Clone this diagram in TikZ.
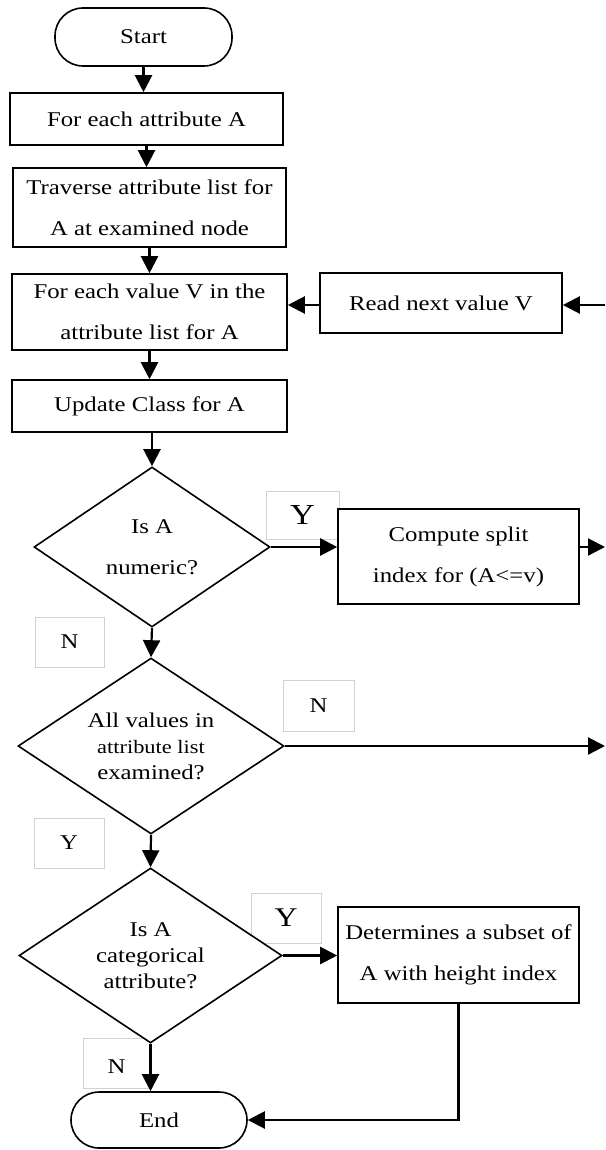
\documentclass[tikz,border=0pt]{standalone}
\usepackage{fontspec}
\setmainfont[FakeStretch=1.18]{Liberation Serif}
\usetikzlibrary{shapes.geometric,arrows.meta}
\begin{document}
\begin{tikzpicture}[x=1pt,y=-1pt,
  base/.style={font=\fontsize{21}{41}\selectfont, align=center, inner sep=0pt},
  proc/.style={base, draw, line width=1.6pt, fill=white, rectangle},
  term/.style={proc, rounded corners=28pt},
  dec/.style={base, draw, line width=1.6pt, fill=white, diamond},
  lbl/.style={draw=black!18, line width=1pt, fill=white, inner sep=0pt, font=\fontsize{21}{21}\selectfont},
  arr/.style={line width=2.2pt, -{Triangle[length=17pt,width=17pt]}},
  ln/.style={line width=2.2pt}]
\useasboundingbox (0,0) rectangle (605,1150);
% edge labels (behind shapes)
\node[lbl, minimum width=73pt, minimum height=48pt, font=\fontsize{29}{29}\selectfont] (y1) at (302.5,515) {Y};
\node[lbl, minimum width=69pt, minimum height=50pt] (n1) at (69.5,642) {N};
\node[lbl, minimum width=71pt, minimum height=51pt] (n2) at (318.5,705.5) {N};
\node[lbl, minimum width=70pt, minimum height=50pt] (y2) at (69,843) {Y};
\node[lbl, minimum width=70pt, minimum height=50pt, font=\fontsize{27}{27}\selectfont] (y3) at (286,918) {Y};
\node[lbl, minimum width=67pt, minimum height=50pt, text depth=0pt, anchor=center] (n3) at (116.5,1063) {\raisebox{-8pt}{N}};
% shapes
\node[term, minimum width=177pt, minimum height=58pt] (start) at (143.5,37) {Start};
\node[proc, minimum width=273pt, minimum height=52pt] (b1) at (146.5,119) {For each attribute A};
\node[proc, minimum width=273pt, minimum height=79pt] (b2) at (149.5,207.5) {Traverse attribute list for\\A at examined node};
\node[proc, minimum width=275pt, minimum height=76pt] (b3) at (149.5,312) {For each value V in the\\attribute list for A};
\node[proc, minimum width=242pt, minimum height=60pt] (read) at (441,303) {Read next value V};
\node[proc, minimum width=275pt, minimum height=52pt] (b4) at (149.5,406) {Update Class for A};
\node[dec, minimum width=236pt, minimum height=160pt, shape aspect=1.47] (d1) at (152,547) {\raisebox{-6pt}{Is A}\\\raisebox{-6pt}{numeric?}};
\node[proc, minimum width=241pt, minimum height=95pt] (comp) at (458.5,556.5) {Compute split\\index for (A<=v)};
\node[dec, minimum width=266pt, minimum height=176pt, shape aspect=1.51, font=\fontsize{21}{26}\selectfont] (d2) at (151,746) {All values in\\{\fontsize{19}{26}\selectfont attribute list}\\examined?};
\node[dec, minimum width=263pt, minimum height=175pt, shape aspect=1.5, font=\fontsize{21}{26}\selectfont] (d3) at (150.5,955.5) {Is A\\categorical\\attribute?};
\node[proc, minimum width=241pt, minimum height=96pt] (det) at (458.5,955) {Determines a subset of\\A with height index};
\node[term, minimum width=176pt, minimum height=56pt] (end) at (159,1120) {End};
% free ends
\coordinate (in1) at (605,305);
\coordinate (out1) at (605,547);
\coordinate (out2) at (605,746);
% connectors
\draw[arr] (start.south) -- (b1.north -| start.south);
\draw[arr] (b1.south) -- (b2.north -| b1.south);
\draw[arr] (b2.south) -- (b3.north -| b2.south);
\draw[arr] (b3.south) -- (b4.north -| b3.south);
\draw[arr] (b4.south -| d1.north) -- (d1.north);
\draw[arr] (in1) -- (in1 -| read.east);
\draw[arr] (read.west |- in1) -- (in1 -| b3.east);
\draw[arr] (d1.east) -- (d1.east -| comp.west);
\draw[arr] (comp.east |- out1) -- (out1);
\draw[arr] (d1.south) -- (d2.north);
\draw[arr] (d2.east) -- (out2);
\draw[arr] (d2.south) -- (d3.north);
\draw[arr] (d3.east) -- (d3.east -| det.west);
\draw[arr] (d3.south) -- (d3.south |- end.north);
\draw[arr] (det.south) |- (end.east);
\end{tikzpicture}
\end{document}
